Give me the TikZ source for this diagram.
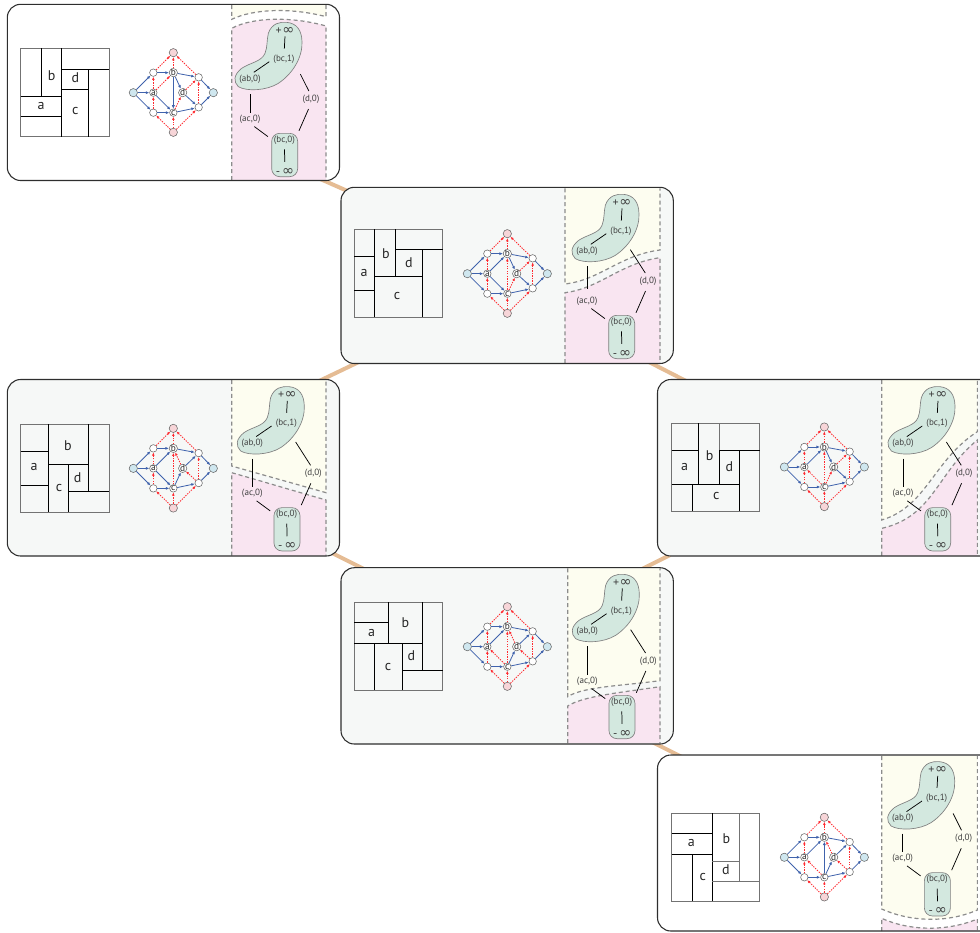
\documentclass[tikz,border=0pt]{standalone}
\usepackage{fontspec}
\setmainfont{PT Sans}
\newfontfamily\inffont{DejaVu Sans}
\usetikzlibrary{arrows.meta}
\definecolor{panelgray}{HTML}{F6F8F7}
\definecolor{regyellow}{HTML}{FDFDF0}
\definecolor{regpink}{HTML}{F9E5F1}
\definecolor{blobgreen}{HTML}{D3E8DF}
\definecolor{tanlink}{HTML}{E5BC94}
\definecolor{flowblue}{HTML}{3F62AC}
\definecolor{dualred}{HTML}{FF2A30}
\definecolor{nodeblue}{HTML}{CFE7EF}
\definecolor{nodepink}{HTML}{F7D5D8}
\tikzset{
  zoomed/.style 2 args={shift={(#1,#2)},x=.25pt,y=-.25pt},
  tanedge/.style={draw=tanlink,line width=3pt},
  frameline/.style={draw=black!82,line width=.8pt,rounded corners=10pt},
  regline/.style={draw=black!45,line width=.9pt,dash pattern=on 3pt off 2.2pt},
  fpouter/.style={draw=black!55,line width=.75pt},
  fpline/.style={draw=black,line width=.75pt},
  fptext/.style={font=\fontsize{10.5}{10.5}\selectfont,inner sep=0pt,text=black!85},
  gnode/.style={circle,draw=black!60,line width=.4pt,inner sep=0pt,minimum size=5.6pt,fill=white,font=\fontsize{7}{7}\selectfont,text=black!85},
  flowedge/.style={draw=flowblue,line width=.6pt,-{Latex[length=2.6pt,width=2.2pt]}},
  flowthick/.style={draw=flowblue,line width=1pt,-{Latex[length=2.6pt,width=2.4pt]}},
  dualedge/.style={draw=dualred,line width=.65pt,dash pattern=on 1pt off .9pt,-{Latex[length=2.4pt,width=2pt,fill=dualred]}},
  dlabel/.style={inner sep=0pt,text height=4.4pt,text depth=1.3pt,font=\fontsize{6.8}{6.8}\selectfont,text=black!75},
  dualline/.style={draw=black,line width=.55pt},
  blobshape/.style={draw=black!50,line width=.5pt,fill=blobgreen},
  lowbox/.style={rectangle,draw=black!50,line width=.5pt,fill=blobgreen,rounded corners=6pt,inner sep=0pt,minimum width=19.5pt,minimum height=32.5pt},
}
\newcommand{\PanelBack}[5]{\fill[#5,rounded corners=10pt] (#1,#2) rectangle (#3,#4);}
\newcommand{\PanelLine}[4]{\draw[frameline] (#1,#2) rectangle (#3,#4);}
\newcommand{\Regions}[8]{%
  \begin{scope}[zoomed={#1}{#2}]
    \fill[regyellow] (#3,#5) -- #7 -- (#4,#5) -- cycle;
    \fill[regpink] (#3,#6) -- #8 -- (#4,#6) -- cycle;
    \draw[regline] (#3,#5) -- #7 -- (#4,#5);
    \draw[regline] (#3,#6) -- #8 -- (#4,#6);
  \end{scope}}
% graph: prefix, shift, flow edges, thick flow edges, dual edges
\newcommand{\FlowGraph}[6]{%
  \begin{scope}[zoomed={#2}{#3}]
    \node[gnode,fill=nodeblue,minimum size=6.2pt] (#1s) at (400,278) {};
    \node[gnode,fill=nodeblue,minimum size=6.2pt] (#1t) at (640,278) {};
    \node[gnode,fill=nodepink,minimum size=6.2pt] (#1top) at (520,158) {};
    \node[gnode,fill=nodepink,minimum size=6.2pt] (#1bot) at (520,397) {};
    \node[gnode] (#1n1) at (460,218) {};
    \node[gnode] (#1n2) at (460,338) {};
    \node[gnode] (#1n3) at (596,232) {};
    \node[gnode] (#1n4) at (596,322) {};
    \node[gnode] (#1a) at (460,278) {a};
    \node[gnode] (#1b) at (520,218) {b};
    \node[gnode] (#1c) at (520,338) {c};
    \node[gnode] (#1d) at (548,278) {d};
    \foreach \u/\v in {s/n1,s/a,s/n2,n1/b,n2/c,n3/t,n4/t,#4} {\draw[flowedge] (#1\u) -- (#1\v);}
    \foreach \u/\v in {#5} {\draw[flowthick] (#1\u) -- (#1\v);}
    \foreach \u/\v in {bot/n2,bot/c,bot/n4,n2/a,a/n1,n1/top,b/top,n3/top,n4/n3,#6} {\draw[dualedge] (#1\u) -- (#1\v);}
  \end{scope}}
% dual: prefix, shift, extra drop of the lower part, end shortening of ab-ac
\newcommand{\DualPart}[5]{%
  \begin{scope}[zoomed={#2}{#3}]
    \path[blobshape] (805,100) .. controls (815,70) and (840,65) .. (860,67)
      .. controls (890,70) and (905,90) .. (906,125)
      .. controls (908,170) and (880,220) .. (835,250)
      .. controls (800,272) and (740,275) .. (715,260)
      .. controls (700,245) and (700,225) .. (725,205)
      .. controls (750,188) and (785,185) .. (795,160)
      .. controls (803,140) and (800,120) .. (805,100) -- cycle;
    \node[lowbox] (#1box) at (854,{465+#4}) {};
    \node[dlabel] (#1plus) at (855,96) {{\fontsize{9}{9}\selectfont +}\hspace{.4pt}{\inffont\fontsize{10.8}{10.8}\selectfont ∞}};
    \node[dlabel] (#1bc1) at (852,177) {(bc,1)};
    \node[dlabel] (#1ab) at (750,237) {(ab,0)};
    \node[dlabel] (#1ac) at (750,{358+#4}) {(ac,0)};
    \node[dlabel] (#1dz) at (933,{298+#4}) {(d,0)};
    \node[dlabel] (#1bc0) at (853,{420+#4}) {(bc,0)};
    \node[dlabel] (#1minus) at (855,{520+#4}) {{\fontsize{9}{9}\selectfont -}\hspace{1.5pt}{\inffont\fontsize{10.8}{10.8}\selectfont ∞}};
    \draw[dualline,shorten <=.3pt,shorten >=4.8pt] (#1plus.south) -- (#1bc1.north);
    \draw[dualline,shorten <=3.6pt,shorten >=3.5pt] (#1bc1.west) -- (#1ab.north);
    \draw[dualline,shorten <=8.5pt,shorten >=#5] (#1ab.south) -- (#1ac.north);
    \draw[dualline,shorten <=4pt,shorten >=3.2pt] (#1ac.south) -- (#1box.130);
    \draw[dualline,shorten <=4.6pt,shorten >=1.8pt] (#1dz.south) -- (#1box.north east);
    \ifnum#4>0
      \draw[dualline,shorten <=13pt,shorten >=3.8pt] (#1bc1.south) -- (#1dz.north);
    \else
      \draw[dualline,shorten <=9.3pt,shorten >=3.6pt] (#1bc1.south east) -- (#1dz.north);
    \fi
    \draw[dualline,shorten <=4pt,shorten >=5.5pt] (#1bc0.south) -- (#1minus.north);
  \end{scope}}
\begin{document}
\begin{tikzpicture}[x=.75pt,y=-.75pt]
\clip (0,0) rectangle (980,932);
% lattice links
\coordinate (la1) at (318,178); \coordinate (lb1) at (352,193);
\coordinate (la2) at (315,383); \coordinate (lb2) at (365,359);
\coordinate (la3) at (645,360); \coordinate (lb3) at (690,383);
\coordinate (la4) at (330,552); \coordinate (lb4) at (368,571);
\coordinate (la5) at (640,570); \coordinate (lb5) at (670,555);
\coordinate (la6) at (650,741); \coordinate (lb6) at (682,757);
\foreach \i in {1,...,6} {\draw[tanedge] (la\i) -- (lb\i);}

% ---------- panel 1
\PanelBack{7.3}{4.3}{339.5}{180.5}{white}
\Regions{0}{0}{695}{978}{15}{540}{(695,58) .. controls (760,27) and (870,22) .. (978,50)}{(695,85) .. controls (760,50) and (880,50) .. (978,78)}
\begin{scope}[zoomed={0}{0}]
  \draw[fpouter] (62,145) rectangle (328,410);
  \draw[fpline] (125,145) -- (125,290) (62,290) -- (185,290) (185,145) -- (185,410) (185,208) -- (328,208) (185,268) -- (265,268) (265,208) -- (265,410) (62,350) -- (185,350);
  \node[fptext] (f1b) at (155,228) {b};
  \node[fptext] (f1d) at (226,233) {d};
  \node[fptext] (f1a) at (123,319) {a};
  \node[fptext] (f1c) at (226,334) {c};
\end{scope}
\FlowGraph{gA}{0}{0}{a/c,b/d,b/n3,d/n4,c/n4}{b/c}{a/b,c/d,d/n3}
\DualPart{dA}{0}{0}{0}{1.8pt}
\PanelLine{7.3}{4.3}{339.5}{180.5}

% ---------- panel 2
\PanelBack{341}{187.3}{673.3}{363.5}{panelgray}
\Regions{340}{180}{675}{960}{25}{549}{(675,312) .. controls (780,300) and (840,225) .. (960,210)}{(675,338) .. controls (780,325) and (840,250) .. (960,233)}
\begin{scope}[zoomed={340}{180}]
  \draw[fpouter] (43,148) rectangle (308,412);
  \draw[fpline] (103,148) -- (103,412) (43,229) -- (103,229) (43,330) -- (103,330) (167,148) -- (167,289) (103,289) -- (247,289) (167,208) -- (308,208) (247,208) -- (247,412);
  \node[fptext] (f2b) at (138,220) {b};
  \node[fptext] (f2d) at (207,248) {d};
  \node[fptext] (f2a) at (72,280) {a};
  \node[fptext] (f2c) at (171,349) {c};
\end{scope}
\FlowGraph{gB}{334}{181}{a/b,a/c,b/n3,b/d,d/n4,c/n4}{}{c/b,c/d,d/n3}
\DualPart{dB}{337}{172}{30}{6.5pt}
\PanelLine{341}{187.3}{673.3}{363.5}

% ---------- panel 3
\PanelBack{7.3}{379.5}{339.5}{556}{panelgray}
\Regions{0}{370}{695}{978}{30}{557}{(695,288) .. controls (790,315) and (880,340) .. (978,368)}{(695,308) .. controls (790,335) and (880,362) .. (978,390)}
\begin{scope}[zoomed={0}{370}]
  \draw[fpouter] (62,162) rectangle (328,427);
  \draw[fpline] (146,162) -- (146,427) (62,244) -- (146,244) (62,346) -- (146,346) (146,283) -- (266,283) (266,162) -- (266,365) (205,283) -- (205,427) (205,365) -- (328,365);
  \node[fptext] (f3b) at (204,228) {b};
  \node[fptext] (f3d) at (233,324) {d};
  \node[fptext] (f3a) at (102,292) {a};
  \node[fptext] (f3c) at (177,355) {c};
\end{scope}
\FlowGraph{gC}{0}{375.7}{a/b,a/c,b/n3,c/d,c/n4,d/n3}{}{c/b,d/b,n4/d}
\DualPart{dC}{2.3}{364.3}{30}{1.8pt}
\PanelLine{7.3}{379.5}{339.5}{556}

% ---------- panel 4
\PanelBack{657.5}{379.5}{1000}{556}{panelgray}
\Regions{650}{370}{695}{982}{30}{557}{(695,450) .. controls (830,410) and (850,270) .. (982,185)}{(695,475) .. controls (850,440) and (860,310) .. (982,210)}
\begin{scope}[zoomed={650}{370}]
  \draw[fpouter] (65,160) rectangle (329,424);
  \draw[fpline] (146,160) -- (146,343) (65,240) -- (146,240) (65,343) -- (268,343) (128,343) -- (128,424) (208,240) -- (208,343) (208,240) -- (329,240) (268,240) -- (268,424);
  \draw[fpouter] (208,160) -- (208,240);
  \node[fptext] (f4b) at (179,258) {b};
  \node[fptext] (f4d) at (238,291) {d};
  \node[fptext] (f4a) at (104,292) {a};
  \node[fptext] (f4c) at (199,379) {c};
\end{scope}
\FlowGraph{gD}{651}{374.3}{a/b,b/n3,b/d,d/n4,c/n4}{}{c/a,c/b,c/d,d/n3}
\DualPart{dD}{653}{364.3}{30}{1.8pt}
\PanelLine{657.5}{379.5}{1000}{556}

% ---------- panel 5
\PanelBack{341}{567.7}{673.3}{744}{panelgray}
\Regions{340}{560}{683}{960}{25}{549}{(683,410) .. controls (730,380) and (840,378) .. (960,362)}{(683,438) .. controls (730,408) and (840,398) .. (960,380)}
\begin{scope}[zoomed={340}{560}]
  \draw[fpouter] (43,127) rectangle (308,391);
  \draw[fpline] (146,127) -- (146,249) (43,188) -- (146,188) (43,249) -- (248,249) (103,249) -- (103,391) (187,249) -- (187,391) (248,127) -- (248,330) (187,330) -- (308,330);
  \node[fptext] (f5b) at (196,188) {b};
  \node[fptext] (f5d) at (214,288) {d};
  \node[fptext] (f5a) at (95,220) {a};
  \node[fptext] (f5c) at (144,320) {c};
\end{scope}
\FlowGraph{gE}{334}{554}{a/b,c/d,c/n4,b/n3,d/n3}{}{c/a,c/b,d/b,n4/d}
\DualPart{dE}{337.3}{552}{30}{1.8pt}
\PanelLine{341}{567.7}{673.3}{744}

% ---------- panel 6
\PanelBack{657.5}{755}{1000}{931}{white}
\Regions{650}{745}{695}{982}{33}{558}{(695,492) .. controls (780,530) and (890,535) .. (982,495)}{(695,520) .. controls (780,558) and (890,560) .. (982,522)}
\begin{scope}[zoomed={650}{745}]
  \draw[fpouter] (65,205) rectangle (329,469);
  \draw[fpline] (187,205) -- (187,469) (65,265) -- (187,265) (65,328) -- (187,328) (128,328) -- (128,469) (187,408) -- (269,408);
  \draw[fpouter] (269,205) -- (269,408) (187,348) -- (269,348) (187,408) -- (329,408);
  \node[fptext] (f6b) at (229,282) {b};
  \node[fptext] (f6d) at (228,375) {d};
  \node[fptext] (f6a) at (124,295) {a};
  \node[fptext] (f6c) at (158,397) {c};
\end{scope}
\FlowGraph{gF}{651}{764.6}{a/b,c/d,c/n4,b/n3,d/n3}{c/b}{c/a,d/b,n4/d}
\DualPart{dF}{652.7}{739.3}{0}{1.8pt}
\PanelLine{657.5}{755}{1000}{931}
\end{tikzpicture}
\end{document}
